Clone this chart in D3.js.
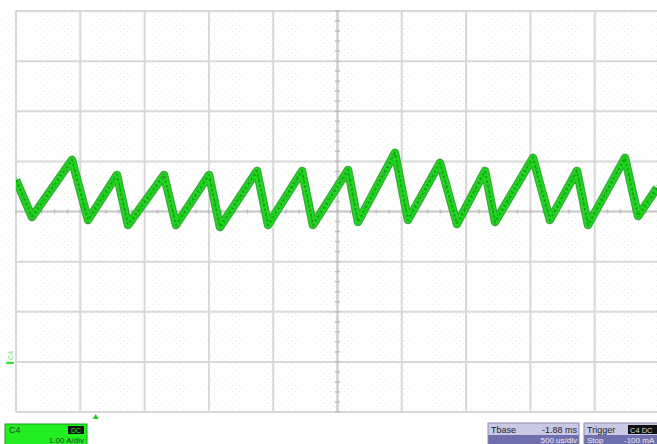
<!DOCTYPE html>
<html><head><meta charset="utf-8">
<script src="https://cdn.jsdelivr.net/npm/d3@7"></script>
<style>
html,body{margin:0;padding:0;background:#fff;}
svg{display:block;font-family:"Liberation Sans",Arial,sans-serif;}
</style></head>
<body>
<svg id="c" width="657" height="444"></svg>
<script>
// ---- data (time in ms from screen left, current in A) ----
const times = [0, 0.124, 0.435, 0.56, 0.785, 0.871, 1.151, 1.244, 1.501, 1.586, 1.874, 1.96, 2.224, 2.309, 2.582, 2.659, 2.947, 3.048, 3.297, 3.429, 3.647, 3.725, 4.02, 4.152, 4.362, 4.448, 4.736, 4.837, 4.984];
const currents = [3.63, 2.89, 4.03, 2.83, 3.73, 2.73, 3.73, 2.73, 3.73, 2.69, 3.81, 2.73, 3.81, 2.73, 3.83, 2.79, 4.17, 2.83, 3.97, 2.75, 3.81, 2.79, 4.07, 2.83, 3.81, 2.73, 4.07, 2.91, 3.47];
const xDivs = d3.range(0, 11);      // 10 horizontal divisions, 0.5 ms each
const yDivs = d3.range(0, 9);       // 8 vertical divisions, 1 A each
const channelLabel = ["C4", "DC", "1.00 A/div"];
const tbaseLabel = ["Tbase", "-1.88 ms", "500 us/div"];
const triggerLabel = ["Trigger", "C4 DC", "Stop", "-100 mA"];
const triggerTime = 0.62;
const groundLevel = 0;

const svg = d3.select("#c");
const L = 16, R = 659, T = 11, B = 412;
const x = d3.scaleLinear().domain([0, 5]).range([L, R]);
const y = d3.scaleLinear().domain([-1, 7]).range([B, T]);

// dotted background pattern
const defs = svg.append("defs");
const pat = defs.append("pattern").attr("id","dots").attr("width",7).attr("height",6).attr("patternUnits","userSpaceOnUse");
pat.append("rect").attr("width",7).attr("height",6).attr("fill","#fefffe");
pat.append("rect").attr("x",1).attr("y",1).attr("width",1).attr("height",1).attr("fill","#e3f1e3");
pat.append("rect").attr("x",5).attr("y",4).attr("width",1).attr("height",1).attr("fill","#ebf0eb");
defs.append("clipPath").attr("id","clip").append("rect").attr("x",L).attr("y",T).attr("width",R-L).attr("height",B-T);

svg.append("rect").attr("width",657).attr("height",444).attr("fill","#fff");
svg.append("rect").attr("x",0).attr("y",T).attr("width",657).attr("height",B-T).attr("fill","url(#dots)");

// grid
const g = svg.append("g");
g.selectAll("line.v").data(xDivs).join("line")
  .attr("x1", d => x(d*0.5)).attr("x2", d => x(d*0.5))
  .attr("y1", T).attr("y2", B)
  .attr("stroke", "#d8d8d8").attr("stroke-width", 2);
g.selectAll("line.h").data(yDivs).join("line")
  .attr("y1", d => y(d-1)).attr("y2", d => y(d-1))
  .attr("x1", L).attr("x2", R)
  .attr("stroke", "#d8d8d8").attr("stroke-width", 2);

// center axes with minor ticks
const cx = x(2.5), cy = y(3);
g.append("line").attr("x1",cx).attr("x2",cx).attr("y1",T).attr("y2",B).attr("stroke","#cdcdcd").attr("stroke-width",2);
g.append("line").attr("x1",L).attr("x2",R).attr("y1",cy).attr("y2",cy).attr("stroke","#cdcdcd").attr("stroke-width",2);
const vt = d3.range(0, 41).map(i => -1 + i*0.2);
g.selectAll("line.vt").data(vt).join("line")
  .attr("x1", cx-2.5).attr("x2", cx+2.5).attr("y1", d=>y(d)).attr("y2", d=>y(d))
  .attr("stroke","#bdbdbd").attr("stroke-width",1.5);
const ht = d3.range(0, 51).map(i => i*0.1);
g.selectAll("line.ht").data(ht).join("line")
  .attr("y1", cy-2).attr("y2", cy+2).attr("x1", d=>x(d)).attr("x2", d=>x(d))
  .attr("stroke","#bdbdbd").attr("stroke-width",1.5);

// trace
const pts = times.map((t,i)=>[t, currents[i]]);
const line = d3.line().x(d=>x(d[0])).y(d=>y(d[1]));
const tr = svg.append("g").attr("clip-path","url(#clip)");
tr.append("path").datum(pts).attr("d",line).attr("fill","none")
  .attr("stroke","#3aa83a").attr("stroke-width",8.5).attr("stroke-linejoin","round");
tr.append("path").datum(pts).attr("d",line).attr("fill","none")
  .attr("stroke","#1fd81f").attr("stroke-width",6).attr("stroke-linejoin","round");
tr.append("path").datum(pts).attr("d",line).attr("fill","none")
  .attr("stroke","#118a11").attr("stroke-width",1.4).attr("stroke-dasharray","2,3").attr("stroke-linejoin","round");
tr.append("path").datum(pts).attr("d",line).attr("fill","none")
  .attr("stroke","#15a015").attr("stroke-width",1.2).attr("stroke-dasharray","1,3")
  .attr("transform","translate(0,-2.5)");
tr.append("path").datum(pts).attr("d",line).attr("fill","none")
  .attr("stroke","#15a015").attr("stroke-width",1.2).attr("stroke-dasharray","1,3")
  .attr("transform","translate(0,2.5)");

// ground marker
const gy = y(groundLevel);
svg.append("line").attr("x1",6).attr("x2",14).attr("y1",gy+1).attr("y2",gy+1).attr("stroke","#33dd33").attr("stroke-width",2);
svg.append("text").attr("transform",`translate(13,${gy-2}) rotate(-90)`).attr("font-size",7).attr("fill","#66dd66").text("C4");

// trigger marker
const tx = x(triggerTime);
svg.append("path").attr("d",`M${tx-3},${419}L${tx+3},${419}L${tx},${414}Z`).attr("fill","#22cc22");

// channel box
svg.append("rect").attr("x",5).attr("y",424).attr("width",82).attr("height",22).attr("fill","#22ee22").attr("stroke","#14a014").attr("stroke-width",1);
svg.append("text").attr("x",9).attr("y",433).attr("font-size",9).attr("fill","#224422").text(channelLabel[0]);
svg.append("rect").attr("x",68).attr("y",426).attr("width",16).attr("height",8).attr("fill","#111");
svg.append("text").attr("x",76).attr("y",433).attr("font-size",7).attr("text-anchor","middle").attr("fill","#22ee22").text(channelLabel[1]);
svg.append("text").attr("x",84).attr("y",442.5).attr("font-size",8).attr("text-anchor","end").attr("fill","#224422").text(channelLabel[2]);

// timebase box
svg.append("rect").attr("x",488).attr("y",423).attr("width",91).attr("height",12).attr("fill","#c9c9e6");
svg.append("rect").attr("x",488).attr("y",435).attr("width",91).attr("height",10).attr("fill","#6f6fae");
svg.append("rect").attr("x",488).attr("y",423).attr("width",91).attr("height",22).attr("fill","none").attr("stroke","#8a8ab8");
svg.append("text").attr("x",491).attr("y",433).attr("font-size",9).attr("fill","#222").text(tbaseLabel[0]);
svg.append("text").attr("x",577).attr("y",433).attr("font-size",9).attr("text-anchor","end").attr("fill","#222").text(tbaseLabel[1]);
svg.append("text").attr("x",577).attr("y",442.5).attr("font-size",8).attr("text-anchor","end").attr("fill","#eee").text(tbaseLabel[2]);

// trigger box
svg.append("rect").attr("x",584).attr("y",423).attr("width",80).attr("height",12).attr("fill","#c9c9e6");
svg.append("rect").attr("x",584).attr("y",435).attr("width",80).attr("height",10).attr("fill","#6f6fae");
svg.append("rect").attr("x",584).attr("y",423).attr("width",80).attr("height",22).attr("fill","none").attr("stroke","#8a8ab8");
svg.append("text").attr("x",587).attr("y",433).attr("font-size",9).attr("fill","#222").text(triggerLabel[0]);
svg.append("rect").attr("x",628).attr("y",425).attr("width",29).attr("height",9).attr("fill","#111");
svg.append("text").attr("x",630).attr("y",432.5).attr("font-size",7.5).attr("fill","#ddd").text(triggerLabel[1]);
svg.append("text").attr("x",587).attr("y",442.5).attr("font-size",8).attr("fill","#eee").text(triggerLabel[2]);
svg.append("text").attr("x",624).attr("y",442.5).attr("font-size",8).attr("fill","#eee").text(triggerLabel[3]);
</script>
</body></html>
